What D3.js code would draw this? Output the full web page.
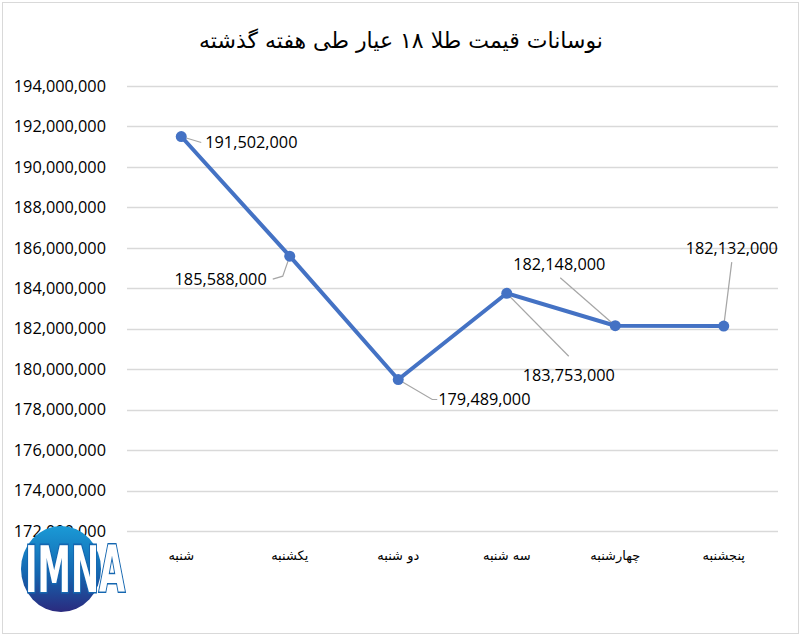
<!DOCTYPE html>
<html>
<head>
<meta charset="utf-8">
<script src="https://cdn.jsdelivr.net/npm/d3@7"></script>
<style>
  body { margin: 0; background: #fff; }
  svg { display: block; }
</style>
</head>
<body>
<div id="chart"></div>
<script>
const days = ["شنبه", "یکشنبه", "دو شنبه", "سه شنبه", "چهارشنبه", "پنجشنبه"];
const prices = [191502000, 185588000, 179489000, 183753000, 182148000, 182132000];
const yTicks = [172000000, 174000000, 176000000, 178000000, 180000000, 182000000,
                184000000, 186000000, 188000000, 190000000, 192000000, 194000000];
const title = "نوسانات قیمت طلا ۱۸ عیار طی هفته گذشته";

// label placement relative to each point (text position + leader line)
const labelLayout = [
    {dx: 24, dy: 6, anchor: "start", leader: [[0, 0], [20, 6]]},
    {dx: -23, dy: 23, anchor: "end", leader: [[0, 0], [-7, 20], [-17, 23]]},
    {dx: 40, dy: 20, anchor: "start", leader: [[0, 0], [34, 20], [39, 20]]},
    {dx: 62, dy: 82, anchor: "middle", leader: [[0, 0], [62, 63]]},
    {dx: -56, dy: -61, anchor: "middle", leader: [[0, 0], [-55, -48]]},
    {dx: 8, dy: -78, anchor: "middle", leader: [[0, 0], [8, -64]]}
];

const W = 801, H = 636;
const margin = {top: 86, right: 23, bottom: 105, left: 127};

const svg = d3.select("#chart").append("svg")
    .attr("width", W)
    .attr("height", H);

// outer border
svg.append("rect")
    .attr("x", 2.5).attr("y", 2.5)
    .attr("width", W - 5).attr("height", H - 5)
    .attr("fill", "#fff")
    .attr("stroke", "#d9d9d9");

svg.append("text")
    .attr("x", 401).attr("y", 48)
    .attr("text-anchor", "middle")
    .attr("direction", "rtl")
    .style("font-family", "'DejaVu Sans', sans-serif")
    .style("font-size", "22px")
    .attr("fill", "#000")
    .text(title);

const x = d3.scaleBand()
    .domain(days)
    .range([margin.left, W - margin.right]);

const y = d3.scaleLinear()
    .domain([172000000, 194000000])
    .range([H - margin.bottom, margin.top]);

// grid
svg.append("g")
    .selectAll("line")
    .data(yTicks)
    .join("line")
    .attr("x1", margin.left)
    .attr("x2", W - margin.right)
    .attr("y1", d => Math.round(y(d)) + 0.5)
    .attr("y2", d => Math.round(y(d)) + 0.5)
    .attr("stroke", "#d9d9d9")
    .attr("stroke-width", 1.3);

// Y axis labels
const yAxis = svg.append("g")
    .attr("transform", "translate(" + (margin.left - 18) + ",0)")
    .call(d3.axisLeft(y).tickValues(yTicks).tickSize(0).tickFormat(d3.format(",")));
yAxis.select(".domain").remove();
yAxis.selectAll("text")
    .style("font-family", "'Open Sans', sans-serif")
    .style("font-size", "16.3px")
    .attr("fill", "#000");

// X axis labels
const xAxis = svg.append("g")
    .attr("transform", "translate(0," + (H - margin.bottom) + ")")
    .call(d3.axisBottom(x).tickSize(0).tickPadding(20));
xAxis.select(".domain").remove();
xAxis.selectAll("text")
    .attr("direction", "rtl")
    .style("font-family", "'DejaVu Sans', sans-serif")
    .style("font-size", "13px")
    .attr("fill", "#000");

const cx = d => x(d) + x.bandwidth() / 2;

// leader lines
svg.append("g")
    .selectAll("path")
    .data(prices)
    .join("path")
    .attr("fill", "none")
    .attr("stroke", "#a6a6a6")
    .attr("stroke-width", 1.2)
    .attr("d", (d, i) => d3.line()(labelLayout[i].leader.map(p => [cx(days[i]) + p[0], y(d) + p[1]])));

// line
svg.append("path")
    .datum(prices)
    .attr("fill", "none")
    .attr("stroke", "#4472c4")
    .attr("stroke-width", 4)
    .attr("stroke-linejoin", "round")
    .attr("d", d3.line()
        .x((d, i) => cx(days[i]))
        .y(d => y(d)));

svg.append("g")
    .selectAll("circle")
    .data(prices)
    .join("circle")
    .attr("cx", (d, i) => cx(days[i]))
    .attr("cy", d => y(d))
    .attr("r", 5.5)
    .attr("fill", "#4472c4");

// data labels
svg.append("g")
    .selectAll("text")
    .data(prices)
    .join("text")
    .attr("x", (d, i) => cx(days[i]) + labelLayout[i].dx)
    .attr("y", (d, i) => y(d) + labelLayout[i].dy)
    .attr("dy", "0.35em")
    .attr("text-anchor", (d, i) => labelLayout[i].anchor)
    .style("font-family", "'Open Sans', sans-serif")
    .style("font-size", "16.3px")
    .attr("fill", "#000")
    .text(d => d3.format(",")(d));

// IMNA logo
const defs = svg.append("defs");
const grad = defs.append("linearGradient")
    .attr("id", "logoGrad")
    .attr("x1", 0).attr("y1", 0).attr("x2", 0).attr("y2", 1);
grad.append("stop").attr("offset", "0%").attr("stop-color", "#1a9ad6");
grad.append("stop").attr("offset", "55%").attr("stop-color", "#1466b0");
grad.append("stop").attr("offset", "100%").attr("stop-color", "#2b2a7e");

const logo = svg.append("g");
logo.append("ellipse")
    .attr("cx", 61).attr("cy", 569)
    .attr("rx", 40).attr("ry", 43)
    .attr("fill", "url(#logoGrad)");
logo.append("text")
    .attr("transform", "translate(25,592) scale(1,1.6)")
    .attr("textLength", 100)
    .attr("lengthAdjust", "spacingAndGlyphs")
    .style("font-family", "'DejaVu Sans Condensed', 'DejaVu Sans', sans-serif")
    .style("font-weight", "bold")
    .style("font-size", "40px")
    .attr("fill", "#fff")
    .attr("stroke", "#1466b0")
    .attr("stroke-width", 2)
    .attr("paint-order", "stroke")
    .text("IMNA");
</script>
</body>
</html>
